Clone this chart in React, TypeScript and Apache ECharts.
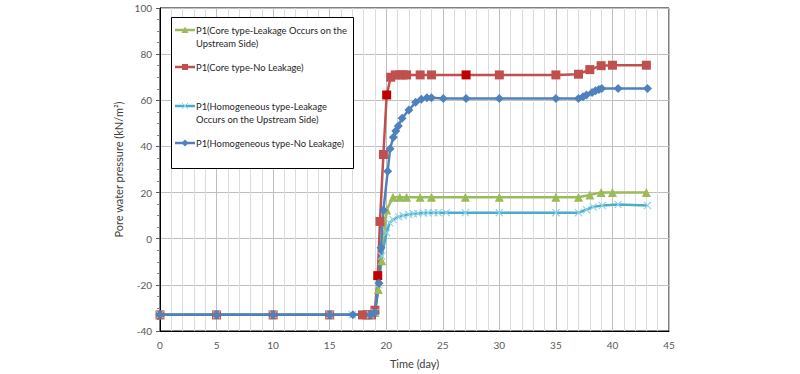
import React, { useEffect, useRef } from "react";
import * as echarts from "echarts";

const FONT = "Lato, 'Open Sans', sans-serif";

const seriesNames = [
  "P1(Core type-Leakage Occurs on the Upstream Side)",
  "P1(Core type-No Leakage)",
  "P1(Homogeneous type-Leakage Occurs on the Upstream Side)",
  "P1(Homogeneous type-No Leakage)",
];

const xCoreLeak = [0, 5, 10, 15, 17.9, 18.3, 18.7, 19.0, 19.3, 19.6, 20.04, 20.6, 21.2, 21.8, 23.0, 24.0, 27.0, 30.0, 35.0, 37.0, 38.0, 39.0, 40.0, 43.0];
const yCoreLeak = [-33, -33, -33, -33, -33, -33, -33, -32, -22, -9.5, 12.5, 18, 18, 18, 18, 18, 18, 18, 18, 18, 19, 20, 20, 20];

const xCoreNo = [0, 5, 10, 15, 17.9, 18.3, 18.7, 19.0, 19.25, 19.45, 19.75, 20.04, 20.4, 20.8, 21.2, 21.5, 21.8, 23.0, 24.0, 27.06, 30.0, 35.0, 37.0, 38.0, 39.0, 40.0, 43.0];
const yCoreNo = [-33, -33, -33, -33, -33, -33, -33, -31, -16, 7.5, 36.5, 62.3, 70, 71, 71, 71, 71, 71, 71, 71, 71, 71, 71.3, 73.3, 75, 75.2, 75.2];
const darkCoreNo = [19.25, 20.04, 27.06];

const xHomLeak = [0, 5, 10, 15, 17.0, 18.6, 19.0, 19.3, 19.6, 20.04, 20.3, 20.6, 21.1, 21.5, 22.0, 22.4, 22.8, 23.3, 23.7, 24.2, 24.6, 25.3, 27.0, 30.0, 35.0, 37.0, 37.7, 38.3, 39.1, 40.5, 43.1];
const yHomLeak = [-33, -33, -33, -33, -33, -33, -32, -20, -7.5, 2.6, 6.9, 8.3, 9.5, 10, 10.5, 10.8, 10.9, 11.1, 11.2, 11.3, 11.3, 11.3, 11.3, 11.3, 11.3, 11.3, 12.6, 13.8, 14.4, 14.8, 14.4];

const xHomNo = [0, 5, 10, 15, 17.05, 18.6, 19.0, 19.36, 19.54, 19.75, 20.13, 20.34, 20.63, 20.84, 21.07, 21.4, 22.0, 22.6, 23.1, 23.6, 24.0, 25.05, 27.06, 30.0, 35.0, 37.0, 37.4, 37.7, 38.2, 38.5, 38.8, 39.05, 40.5, 43.1];
const yHomNo = [-33, -33, -33, -33, -33, -33, -32, -19.3, -3.9, 12.3, 29.2, 39, 44, 46.7, 48.9, 52.2, 55.8, 59.1, 60.5, 61.1, 61.1, 60.8, 60.8, 60.8, 60.8, 60.8, 61.5, 62.3, 63.4, 64.1, 64.7, 65.1, 65.1, 65.1];

const xTicks = { min: 0, max: 45, interval: 5 };
const yTicks = { min: -40, max: 100, interval: 20 };

const GREEN = "#9BBB59";
const RED = "#C0504D";
const DARKRED = "#C00000";
const LBLUE = "#4BACC6";
const LBLUE_MK = "#8FD3E8";
const BLUE = "#4F81BD";

const CROSS = "path://M0,1L1,0L5,4L9,0L10,1L6,5L10,9L9,10L5,6L1,10L0,9L4,5Z";

function zip(xs: number[], ys: number[]) {
  return xs.map((x, i) => [x, ys[i]]);
}

export default function App() {
  const ref = useRef<HTMLDivElement>(null);
  useEffect(() => {
    document.body.style.margin = "0";
    const chart = echarts.init(ref.current!, null, { renderer: "svg" });

    const legendItems = [
      { lines: ["P1(Core type-Leakage Occurs on the", "Upstream Side)"], y: 30, color: GREEN, mk: "tri" },
      { lines: ["P1(Core type-No Leakage)"], y: 67, color: RED, mk: "sq" },
      { lines: ["P1(Homogeneous type-Leakage", "Occurs on the Upstream Side)"], y: 106, color: LBLUE, mk: "x" },
      { lines: ["P1(Homogeneous type-No Leakage)"], y: 143, color: BLUE, mk: "dia" },
    ];
    const g: any[] = [
      {
        type: "rect",
        shape: { x: 171.5, y: 17.5, width: 182, height: 151 },
        style: { fill: "#fff", stroke: "#000", lineWidth: 1 },
        z: 100,
      },
    ];
    legendItems.forEach((it) => {
      g.push({
        type: "line",
        shape: { x1: 175, y1: it.y, x2: 195, y2: it.y },
        style: { stroke: it.color, lineWidth: 2.5 },
        z: 101,
      });
      const cx = 185, cy = it.y;
      if (it.mk === "tri") {
        g.push({ type: "polygon", shape: { points: [[cx - 3.5, cy + 3], [cx + 3.5, cy + 3], [cx, cy - 3.5]] }, style: { fill: it.color }, z: 102 });
      } else if (it.mk === "sq") {
        g.push({ type: "rect", shape: { x: cx - 3, y: cy - 3, width: 6, height: 6 }, style: { fill: it.color }, z: 102 });
      } else if (it.mk === "x") {
        g.push({ type: "line", shape: { x1: cx - 3, y1: cy - 3, x2: cx + 3, y2: cy + 3 }, style: { stroke: LBLUE_MK, lineWidth: 1 }, z: 102 });
        g.push({ type: "line", shape: { x1: cx - 3, y1: cy + 3, x2: cx + 3, y2: cy - 3 }, style: { stroke: LBLUE_MK, lineWidth: 1 }, z: 102 });
      } else {
        g.push({ type: "polygon", shape: { points: [[cx, cy - 3.5], [cx + 3.5, cy], [cx, cy + 3.5], [cx - 3.5, cy]] }, style: { fill: it.color }, z: 102 });
      }
      it.lines.forEach((t, i) => {
        g.push({
          type: "text",
          x: 196,
          y: it.y + i * 13,
          style: { text: t, fill: "#262626", font: `9.4px ${FONT}`, textVerticalAlign: "middle", textAlign: "left" },
          z: 102,
        });
      });
    });

    const axisFont = { color: "#595959", fontSize: 10, fontFamily: FONT };

    chart.setOption({
      animation: false,
      backgroundColor: "#fff",
      grid: { left: 160, top: 8, width: 509, height: 324, show: true, borderColor: "#000", borderWidth: 1, backgroundColor: "transparent" },
      xAxis: {
        type: "value",
        ...xTicks,
        name: "Time (day)",
        nameLocation: "middle",
        nameGap: 27,
        nameTextStyle: { color: "#404040", fontSize: 11, fontFamily: FONT },
        axisLine: { show: true, onZero: false, lineStyle: { color: "#000", width: 1 } },
        axisTick: { show: false },
        axisLabel: { ...axisFont, margin: 9 },
        splitLine: { show: true, lineStyle: { color: "#bfbfbf", width: 1 } },
        minorTick: { show: false, splitNumber: 5 },
        minorSplitLine: { show: true, lineStyle: { color: "#dcdcdc", width: 1 } },
      },
      yAxis: {
        type: "value",
        ...yTicks,
        name: "Pore water pressure (kN/m²)",
        nameLocation: "middle",
        nameGap: 36,
        nameTextStyle: { color: "#404040", fontSize: 11, fontFamily: FONT },
        axisLine: { show: true, onZero: false, lineStyle: { color: "#000", width: 1 } },
        axisTick: { show: true, length: 4, lineStyle: { color: "#595959" } },
        minorTick: { show: true, splitNumber: 4, length: 3, lineStyle: { color: "#808080" } },
        axisLabel: { ...axisFont, margin: 8 },
        splitLine: { show: true, lineStyle: { color: "#bfbfbf", width: 1 } },
      },
      legend: { show: false },
      series: [
        {
          name: seriesNames[0],
          type: "line",
          data: zip(xCoreLeak, yCoreLeak),
          symbol: "triangle",
          symbolSize: 9,
          lineStyle: { color: GREEN, width: 2.5 },
          itemStyle: { color: GREEN },
        },
        {
          name: seriesNames[1],
          type: "line",
          data: zip(xCoreNo, yCoreNo).map((p) =>
            darkCoreNo.includes(p[0]) ? { value: p, itemStyle: { color: DARKRED } } : p
          ),
          symbol: "rect",
          symbolSize: 9,
          lineStyle: { color: RED, width: 2.5 },
          itemStyle: { color: RED },
        },
        {
          name: seriesNames[2],
          type: "line",
          data: zip(xHomLeak, yHomLeak),
          symbol: CROSS,
          symbolSize: 8,
          lineStyle: { color: LBLUE, width: 2.5 },
          itemStyle: { color: LBLUE_MK },
        },
        {
          name: seriesNames[3],
          type: "line",
          data: zip(xHomNo, yHomNo),
          symbol: "diamond",
          symbolSize: 9,
          lineStyle: { color: BLUE, width: 2.5 },
          itemStyle: { color: BLUE },
        },
      ],
      graphic: g,
    });
    return () => chart.dispose();
  }, []);
  return <div ref={ref} style={{ position: "fixed", left: 0, top: 0, width: 800, height: 374 }} />;
}
